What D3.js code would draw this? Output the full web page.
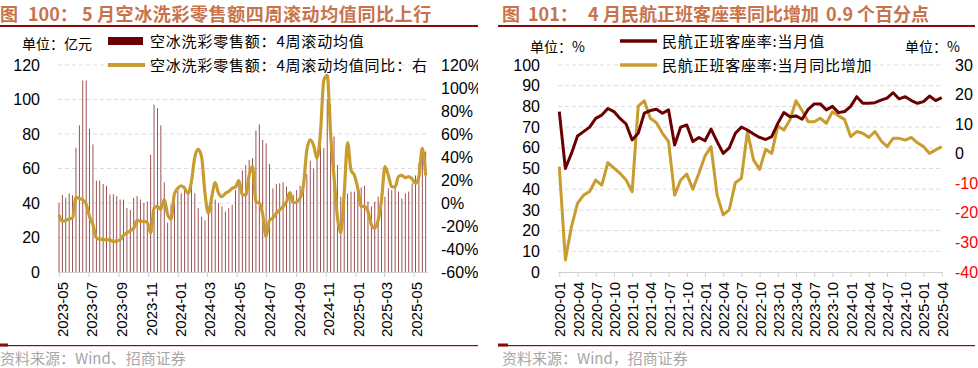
<!DOCTYPE html>
<html><head><meta charset="utf-8">
<script src="https://cdn.jsdelivr.net/npm/d3@7"></script>
<style>
body{margin:0;background:#fff;}
svg{display:block;}
text{font-family:"Liberation Sans","Noto Sans CJK SC",sans-serif;}
.cn{font-family:"Noto Sans CJK SC","Liberation Sans",sans-serif;}
</style></head>
<body>
<svg id="c" width="978" height="368"></svg>
<script>
// ---------- Left chart data (weekly, from 2023-05) ----------
const leftStart = new Date(2023, 4, 1);
const leftBarValues = [40,44.6,43,45.6,44.6,72,85,111,111,83,74,53,53,51,50,45,45,44,42,42,37,36,43,44,42,40,41,68,97,95,85,52,
  28.6,39,44,47.5,45.6,50,47,52,45.6,37,32,30,36,43.7,42,40,38,35,37,39,47.5,53,59,62,65,66,82,85.6,76.5,74.6,62.6,48.5,51,51.4,52,49.5,45.6,44.6,
  47.5,50,54,56.8,64.5,60,69,82.7,72,100,97,78.5,62,43.7,43.7,45.6,46.6,46.6,46.6,49,50,40.8,38,40.8,43.7,39.4,43.7,48.5,47.5,49.5,46.6,42.7,45.6,46.6,51.4,56,63,66.5,69.8];
const leftLineValues = [-10.4,-16,-15,-14,-13,5,4,2.6,-1,-12,-19,-30,-31.6,-31.6,-32,-32,-33.6,-33,-32,-28,-26,-24,-22,-15,-16,-16,-16.8,-26,-4.6,-3,-5.5,3,
  -10,-14,8,12.8,15,12.8,8.4,18.5,40,46.7,40,8.4,-9,5.5,17.7,8.4,5.5,8.4,10,12.8,14,19.4,7,7,24,32,1,0,-10,-29,-15,-13,-9,-6,-3,1,9,0.3,
  1,4,15.6,46,55,50,39,60.6,107,111,60,23,-12,-26,8.4,52.5,28.7,24,12.8,-3,-3,-7.5,-19,-22,-15,3,31.6,24,14,14,23,24,22,23,21,17,23,47.5,24];
const leftDates = leftBarValues.map((_, i) => d3.timeDay.offset(leftStart, 7 * i));
const leftYTicks = [0,20,40,60,80,100,120];
const leftY2Ticks = [-60,-40,-20,0,20,40,60,80,100,120];

// ---------- Right chart data (monthly 2020-01 .. 2025-04) ----------
const rightMonths = d3.range(64).map(i => d3.timeFormat("%Y-%m")(new Date(2020, i, 1)));
const loadFactor = [77.5,50,57.3,65.7,67.8,70,74.2,75.8,79,77.5,74.2,71.5,63.8,67,76.7,78,78.6,76.7,78.3,61.4,
  70,71,63,65,63.4,69,63,57.3,60,67,70,68.6,66.7,65,64,65.4,71.8,77,75,75.4,
  73.8,78.6,81.2,81.2,78.3,80,77,77.5,80,84.7,81.5,81.5,81.8,83,84,86.6,83.6,84.7,82.8,81.5,82.3,85,82.8,84.2];
const loadFactorYoY = [-4.4,-35.9,-24.7,-16.8,-14,-12.8,-8.9,-10.6,-3,-4.9,-6.6,-8.9,-12.8,16.1,17.9,12,10.5,6.9,4.1,-14,
  -8.9,-6.9,-12,-6.6,-0.8,2.4,-14,-20.7,-19,-9.8,-8.3,7.5,-2.1,-5.3,1.5,0.1,9.4,8,11.4,17.9,
  14.6,10.8,10.8,12,10.3,14.2,12.8,11.6,5.8,7.5,6.9,5.5,7.5,4.4,2.4,5.2,5.2,4.6,5.5,3.7,2.4,0.1,1.3,2.4];
const rightYTicks = [0,10,20,30,40,50,60,70,80,90,100];
const rightY2Ticks = [-40,-30,-20,-10,0,10,20,30];

const DARK = "#6b0000", GOLD = "#c89c2e", TITLE = "#c8734c", RULE = "#8b0a0a", GRID = "#dcdcdc";
const svg = d3.select("#c");

// ================= LEFT PANEL =================
svg.append("clipPath").attr("id","clipL").append("rect").attr("x",0).attr("y",0).attr("width",478).attr("height",368);
const L = svg.append("g").attr("clip-path","url(#clipL)");

const lt = L.append("text").attr("class","cn").attr("y",21).attr("fill",TITLE).attr("font-weight","bold").attr("font-size",18);
lt.append("tspan").attr("x",0).text("图");
lt.append("tspan").attr("x",28).text("100：");
lt.append("tspan").attr("x",82).text("5");
lt.append("tspan").attr("x",97).attr("letter-spacing",0.6).text("月空冰洗彩零售额四周滚动均值同比上行");
L.append("rect").attr("x",0).attr("y",25).attr("width",478).attr("height",2).attr("fill",RULE);

const xL = d3.scaleTime().domain([new Date(2023,4,1), new Date(2025,5,1)]).range([59, 428.6]);
const yL = d3.scaleLinear().domain([0,120]).range([272,65]);
const yL2 = d3.scaleLinear().domain([-60,120]).range([272,65]);

L.append("g").selectAll("line").data(leftYTicks.filter(d=>d>0)).join("line")
  .attr("x1",58).attr("x2",428).attr("y1",d=>yL(d)).attr("y2",d=>yL(d))
  .attr("stroke",GRID).attr("stroke-dasharray","4,3");

L.append("g").selectAll("rect").data(leftBarValues).join("rect")
  .attr("x",(d,i)=>xL(leftDates[i])-0.45).attr("width",0.9)
  .attr("y",d=>yL(d)).attr("height",d=>yL(0)-yL(d))
  .attr("fill",DARK).attr("fill-opacity",0.75);

// x axis
const xAxisL = d3.axisBottom(xL).ticks(d3.timeMonth.every(2)).tickFormat(d3.timeFormat("%Y-%m")).tickSize(5);
const gxL = L.append("g").attr("transform","translate(0,272)").call(xAxisL);
gxL.select(".domain").attr("stroke","#d0d0d0").attr("d","M58,0.5H428");
gxL.selectAll(".tick line").attr("stroke","#d0d0d0");
gxL.selectAll(".tick text").attr("font-size",15).attr("fill","#000")
  .attr("text-anchor","end").attr("dy",0).attr("y",0)
  .attr("transform","translate(8,10) rotate(-90)");

L.append("path").datum(leftLineValues)
  .attr("fill","none").attr("stroke",GOLD).attr("stroke-width",3.2).attr("stroke-linejoin","round")
  .attr("d", d3.line().x((d,i)=>xL(leftDates[i])).y(d=>yL2(d)).curve(d3.curveMonotoneX));

L.append("g").selectAll("text").data(leftYTicks).join("text")
  .attr("x",40).attr("y",d=>yL(d)).attr("dy","0.35em").attr("text-anchor","end")
  .attr("font-size",16).text(d=>d);
L.append("g").selectAll("text").data(leftY2Ticks).join("text")
  .attr("x",441).attr("y",d=>yL2(d)).attr("dy","0.35em").attr("text-anchor","start")
  .attr("font-size",16).text(d=>d+"%");

L.append("text").attr("class","cn").attr("x",22).attr("y",49).attr("font-size",14).text("单位：亿元");
L.append("rect").attr("x",108).attr("y",37).attr("width",35).attr("height",8).attr("fill",DARK);
L.append("text").attr("class","cn").attr("x",150).attr("y",47).attr("font-size",15).attr("letter-spacing",0.8).text("空冰洗彩零售额：4周滚动均值");
L.append("line").attr("x1",108).attr("x2",145).attr("y1",65).attr("y2",65).attr("stroke",GOLD).attr("stroke-width",4);
L.append("text").attr("class","cn").attr("x",150).attr("y",71).attr("font-size",15).attr("letter-spacing",0.8).text("空冰洗彩零售额：4周滚动均值同比：右");

L.append("rect").attr("x",0).attr("y",345).attr("width",478).attr("height",1.2).attr("fill",RULE);
L.append("rect").attr("x",0).attr("y",343.5).attr("width",8).attr("height",3).attr("fill",RULE);
L.append("text").attr("class","cn").attr("x",0).attr("y",364).attr("font-size",15).attr("fill","#a6a6a6").text("资料来源：Wind、招商证券");

// ================= RIGHT PANEL =================
const R = svg.append("g");
const rt = R.append("text").attr("class","cn").attr("y",21).attr("fill",TITLE).attr("font-weight","bold").attr("font-size",18);
rt.append("tspan").attr("x",502).text("图");
rt.append("tspan").attr("x",528).text("101：");
rt.append("tspan").attr("x",588).text("4");
rt.append("tspan").attr("x",603).attr("letter-spacing",0).text("月民航正班客座率同比增加");
rt.append("tspan").attr("x",826).text("0.9");
rt.append("tspan").attr("x",857).text("个百分点");
R.append("rect").attr("x",498).attr("y",25).attr("width",477).attr("height",2).attr("fill",RULE);

const xR = d3.scalePoint().domain(rightMonths).range([559.3, 941.7]);
const yR = d3.scaleLinear().domain([0,100]).range([272,65]);
const yR2 = d3.scaleLinear().domain([-40,30]).range([272,65]);

R.append("g").selectAll("line").data(rightYTicks.filter(d=>d>0)).join("line")
  .attr("x1",558).attr("x2",942).attr("y1",d=>yR(d)).attr("y2",d=>yR(d))
  .attr("stroke",GRID).attr("stroke-dasharray","4,3");

const xAxisR = d3.axisBottom(xR).tickValues(rightMonths.filter((d,i)=>i%3===0)).tickSize(5);
const gxR = R.append("g").attr("transform","translate(0,272)").call(xAxisR);
gxR.select(".domain").attr("stroke","#d0d0d0").attr("d","M558,0.5H942");
gxR.selectAll(".tick line").attr("stroke","#d0d0d0");
gxR.selectAll(".tick text").attr("font-size",15).attr("fill","#000")
  .attr("text-anchor","end").attr("dy",0).attr("y",0)
  .attr("transform","translate(5.5,10) rotate(-90)");

const lineR = d3.line().x((d,i)=>xR(rightMonths[i]));
R.append("path").datum(loadFactorYoY).attr("fill","none").attr("stroke",GOLD).attr("stroke-width",3)
  .attr("stroke-linejoin","round").attr("d", lineR.y(d=>yR2(d)));
R.append("path").datum(loadFactor).attr("fill","none").attr("stroke",DARK).attr("stroke-width",3)
  .attr("stroke-linejoin","round").attr("d", d3.line().x((d,i)=>xR(rightMonths[i])).y(d=>yR(d)));

R.append("g").selectAll("text").data(rightYTicks).join("text")
  .attr("x",540).attr("y",d=>yR(d)).attr("dy","0.35em").attr("text-anchor","end")
  .attr("font-size",16).text(d=>d);
R.append("g").selectAll("text").data(rightY2Ticks).join("text")
  .attr("x",955).attr("y",d=>yR2(d)).attr("dy","0.35em").attr("text-anchor","start")
  .attr("font-size",16).attr("fill",d=>d<0?"#ff0000":"#000").text(d=>d);

R.append("text").attr("class","cn").attr("x",530).attr("y",52).attr("font-size",14).text("单位：%");
R.append("text").attr("class","cn").attr("x",905).attr("y",52).attr("font-size",14).text("单位：%");
R.append("line").attr("x1",620).attr("x2",657).attr("y1",41).attr("y2",41).attr("stroke",DARK).attr("stroke-width",3.5);
R.append("text").attr("class","cn").attr("x",662).attr("y",47).attr("font-size",15).attr("letter-spacing",0.8).text("民航正班客座率:当月值");
R.append("line").attr("x1",620).attr("x2",657).attr("y1",65).attr("y2",65).attr("stroke",GOLD).attr("stroke-width",3.5);
R.append("text").attr("class","cn").attr("x",662).attr("y",71).attr("font-size",15).attr("letter-spacing",0.8).text("民航正班客座率:当月同比增加");

R.append("rect").attr("x",498).attr("y",345).attr("width",477).attr("height",1.2).attr("fill",RULE);
R.append("rect").attr("x",498).attr("y",343.5).attr("width",10).attr("height",3).attr("fill",RULE);
R.append("text").attr("class","cn").attr("x",502).attr("y",364).attr("font-size",15).attr("fill","#a6a6a6").text("资料来源：Wind，招商证券");
</script>
</body></html>
